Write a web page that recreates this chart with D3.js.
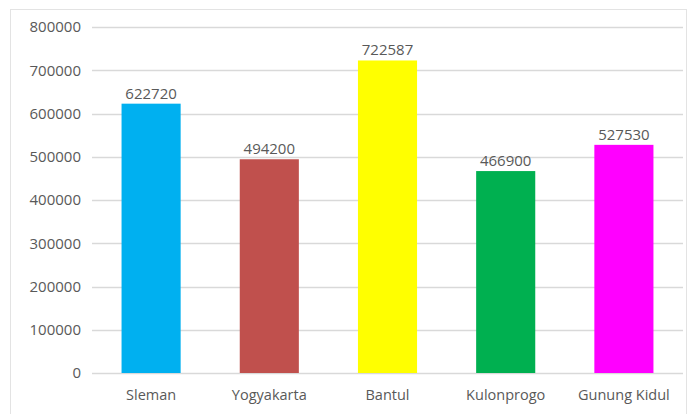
<!DOCTYPE html>
<html>
<head>
<meta charset="utf-8">
<script src="https://cdn.jsdelivr.net/npm/d3@7"></script>
<style>
  body { margin: 0; background: #fff; }
  text { font-family: "Open Sans", sans-serif; fill: #595959; }
</style>
</head>
<body>
<script>
const categories = ["Sleman", "Yogyakarta", "Bantul", "Kulonprogo", "Gunung Kidul"];
const values = [622720, 494200, 722587, 466900, 527530];
const colors = ["#00B0F0", "#C0504D", "#FFFF00", "#00B050", "#FF00FF"];
const yTicks = [0, 100000, 200000, 300000, 400000, 500000, 600000, 700000, 800000];

const width = 687;
const height = 414;
const margin = { top: 27, right: 4, bottom: 41, left: 92 };

const svg = d3.select("body").append("svg")
    .attr("width", width)
    .attr("height", height);

// chart area border
svg.append("rect")
    .attr("x", 10.5)
    .attr("y", 9.5)
    .attr("width", 676)
    .attr("height", 420)
    .attr("fill", "none")
    .attr("stroke", "#e3e3e3");

const x = d3.scaleBand()
    .domain(categories)
    .range([margin.left, width - margin.right])
    .paddingInner(0.5)
    .paddingOuter(0.25);

const y = d3.scaleLinear()
    .domain([0, 800000])
    .range([height - margin.bottom, margin.top]);

// gridlines
svg.append("g")
    .selectAll("line")
    .data(yTicks)
    .enter().append("line")
    .attr("x1", margin.left)
    .attr("x2", width - margin.right)
    .attr("y1", d => Math.round(y(d)) + 0.5)
    .attr("y2", d => Math.round(y(d)) + 0.5)
    .attr("stroke", "#d9d9d9")
    .attr("stroke-width", 1.3);

// y tick labels
svg.append("g")
    .selectAll("text")
    .data(yTicks)
    .enter().append("text")
    .attr("x", 81)
    .attr("y", d => y(d))
    .attr("dy", "0.35em")
    .attr("text-anchor", "end")
    .style("font-size", "15px")
    .text(d => d);

// bars
svg.append("g")
    .selectAll("rect")
    .data(values)
    .enter().append("rect")
    .attr("x", (d, i) => x(categories[i]))
    .attr("width", x.bandwidth())
    .attr("y", d => y(d))
    .attr("height", d => y(0) - y(d))
    .attr("fill", (d, i) => colors[i]);

// value labels
svg.append("g")
    .selectAll("text")
    .data(values)
    .enter().append("text")
    .attr("x", (d, i) => x(categories[i]) + x.bandwidth() / 2)
    .attr("y", d => y(d) - 5)
    .attr("text-anchor", "middle")
    .style("font-size", "15px")
    .text(d => d);

// category labels
svg.append("g")
    .selectAll("text")
    .data(categories)
    .enter().append("text")
    .attr("x", d => x(d) + x.bandwidth() / 2)
    .attr("y", 395)
    .attr("dy", "0.35em")
    .attr("text-anchor", "middle")
    .style("font-size", "14.5px")
    .text(d => d);
</script>
</body>
</html>
